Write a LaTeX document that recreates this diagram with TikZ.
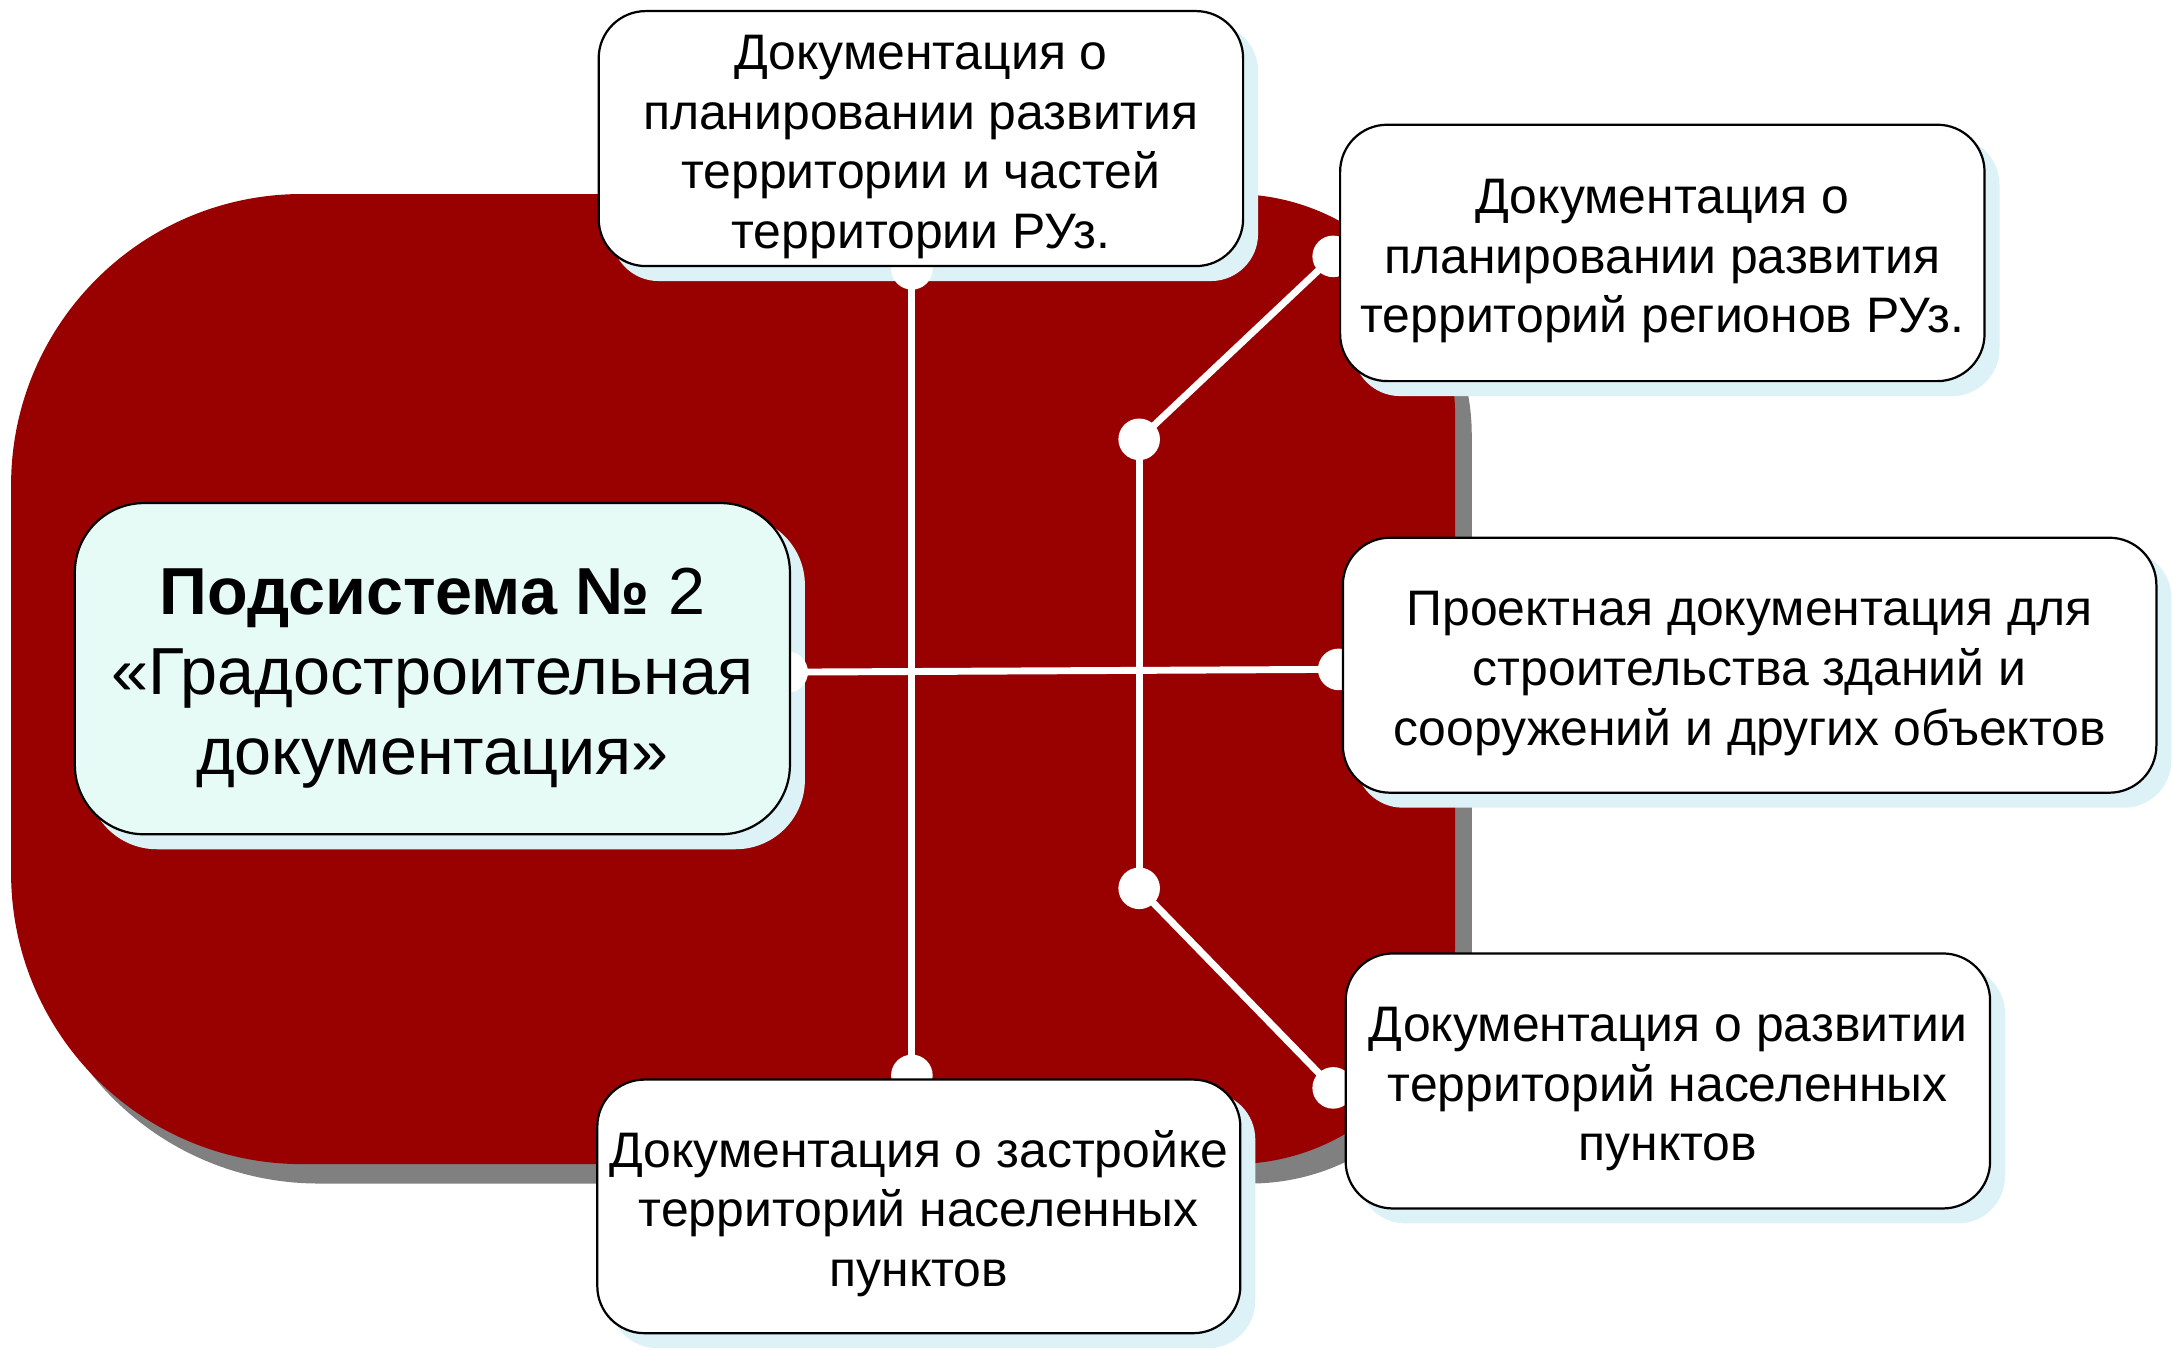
\documentclass[tikz,border=0pt]{standalone}
\usepackage{fontspec}
\setmainfont{Liberation Sans}
\definecolor{bigred}{HTML}{990000}
\definecolor{bigshadow}{HTML}{808080}
\definecolor{boxshadow}{HTML}{DDF2F7}
\definecolor{centerfill}{HTML}{E6FAF6}
\pgfdeclarelayer{back}
\pgfdeclarelayer{mid}
\pgfsetlayers{back,mid,main}
\newcommand\boxtext[2][6pt]{\raisebox{0pt}[\dimexpr\height+#1\relax][\depth]{\begin{tabular}{@{}c@{}}#2\end{tabular}}}
\tikzset{
  infobox/.style={draw=black, line width=0.8pt, fill=white, rounded corners=17pt,
    align=center, inner sep=0pt, font=\fontsize{18}{21.5}\selectfont},
  centerbox/.style={draw=black, line width=0.8pt, fill=centerfill, rounded corners=25pt,
    align=center, inner sep=0pt, font=\fontsize{24}{29}\selectfont},
  link/.style={draw=white, line width=2.5pt},
  dot/.style={fill=white},
}
\begin{document}
\begin{tikzpicture}[x=0.5pt,y=-0.5pt]
\useasboundingbox (0,0) rectangle (1568,974);

% boxes
\node[infobox, minimum width=232.5pt, minimum height=92pt] (top) at (664.5,100)
  {\boxtext{Документация о\\планировании развития\\территории и частей\\территории РУз.}};
\node[infobox, minimum width=232.5pt, minimum height=92.5pt] (tr) at (1199.5,182.5)
  {\boxtext{Документация о\\планировании развития\\территорий регионов РУз.}};
\node[infobox, minimum width=293.5pt, minimum height=92pt] (mr) at (1262.5,480)
  {\boxtext{Проектная документация для\\строительства зданий и\\сооружений и других объектов}};
\node[infobox, minimum width=232.5pt, minimum height=92pt] (br) at (1203.5,780)
  {\boxtext{Документация о развитии\\территорий населенных\\пунктов}};
\node[infobox, minimum width=232pt, minimum height=91.5pt] (bot) at (663,870.5)
  {\boxtext{Документация о застройке\\территорий населенных\\пунктов}};
\node[centerbox, minimum width=258pt, minimum height=119.5pt] (ctr) at (312,482.5)
  {\boxtext[7pt]{\textbf{Подсистема №} 2\\«Градостроительная\\документация»}};

% connector end points
\coordinate (d1) at (658,194);
\coordinate (d2) at (658,776);
\coordinate (d3) at (568,485);
\coordinate (d4) at (966,483);
\coordinate (j1) at (822,317);
\coordinate (j2) at (822,641);
\coordinate (d5) at (962,185);
\coordinate (d6) at (962,785);

\begin{pgfonlayer}{back}
  % big red shape with grey shadow
  \fill[bigshadow, rounded corners=105pt] (20,154) rectangle (700,854);
  \fill[bigshadow, rounded corners=80pt] (400,154) rectangle (1062,854);
  \fill[bigred, rounded corners=105pt] (8,140) rectangle (700,840);
  \fill[bigred, rounded corners=80pt] (400,140) rectangle (1050,840);
  % box shadows
  \foreach \b/\r in {top/17pt, tr/17pt, mr/17pt, br/17pt, bot/17pt, ctr/25pt}{
    \fill[boxshadow, rounded corners=\r]
      ([shift={(10,10)}]\b.north west) rectangle ([shift={(10,10)}]\b.south east);
  }
\end{pgfonlayer}

\begin{pgfonlayer}{mid}
  \draw[link] (d1) -- (d2);
  \draw[link] (d3) -- (d4);
  \draw[link] (j1) -- (j2);
  \draw[link] (j1) -- (d5);
  \draw[link] (j2) -- (d6);
  \foreach \p in {d1,d2,d3,d4,j1,j2,d5,d6}{
    \fill[dot] (\p) circle (7.5pt);
  }
\end{pgfonlayer}
\end{tikzpicture}
\end{document}
